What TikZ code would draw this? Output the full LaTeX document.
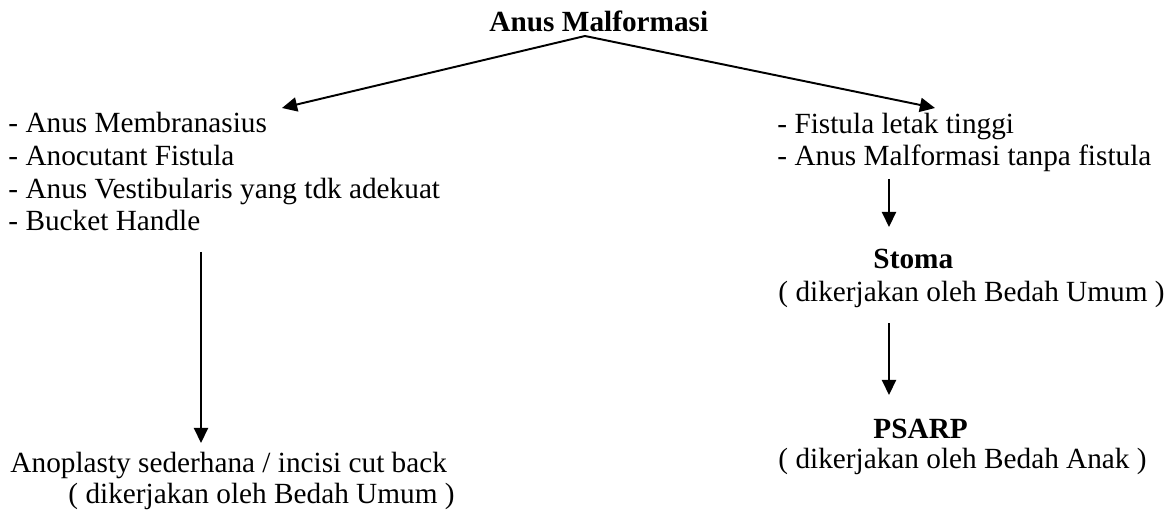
\documentclass[tikz,border=0pt]{standalone}
\usepackage{fontspec}
\setmainfont{Liberation Serif}
\usetikzlibrary{arrows.meta}

\begin{document}
\begin{tikzpicture}[x=0.41pt, y=-0.41pt,
	every node/.style = {inner sep=0pt, anchor=base west, align=left,
		font=\fontsize{12}{13.4}\selectfont},
	head/.style = {font=\fontsize{12}{13.4}\selectfont\bfseries},
	link/.style = {-{Triangle[length=6.2pt,width=5.8pt]}, line width=0.8pt}]
	\useasboundingbox (0,0) rectangle (1173,510);

	% base of a block of lines is the base of its last line
	\node[head] (root) at (489,32) {Anus Malformasi};
	\node (low) at (8,231) {- Anus Membranasius\\- Anocutant Fistula\\- Anus Vestibularis yang tdk adekuat\\- Bucket Handle};
	\node (high) at (777,166) {- Fistula letak tinggi\\- Anus Malformasi tanpa fistula};
	\node[head] (stoma) at (873,269) {Stoma};
	\node (stomaby) at (778,301) {( dikerjakan oleh Bedah Umum )};
	\node[head] (psarp) at (873,438) {PSARP};
	\node (psarpby) at (778,468) {( dikerjakan oleh Bedah Anak )};
	\node (anopl) at (10,472) {Anoplasty sederhana / incisi cut back};
	\node (anoplby) at (68,503) {( dikerjakan oleh Bedah Umum )};

	% ends of the arrows
	\coordinate (split) at (585,36);
	\coordinate (lowtip) at (282,108);
	\coordinate (hightip) at (935,108);
	\coordinate (lowout) at (201,252);
	\coordinate (lowin) at (201,443);
	\coordinate (highout) at (889,179);
	\coordinate (stomain) at (889,227);
	\coordinate (stomaout) at (889,323);
	\coordinate (psarpin) at (889,395);

	\draw[link] (split) -- (lowtip);
	\draw[link] (split) -- (hightip);
	\draw[link] (lowout) -- (lowin);
	\draw[link] (highout) -- (stomain);
	\draw[link] (stomaout) -- (psarpin);
\end{tikzpicture}
\end{document}
